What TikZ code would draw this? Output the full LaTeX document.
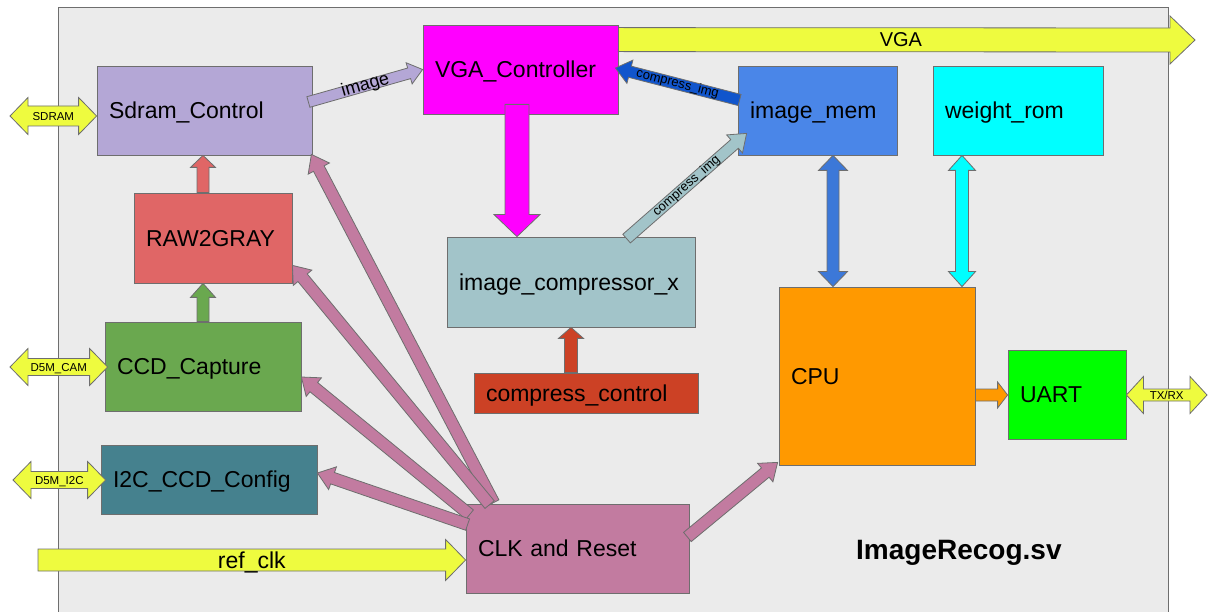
\documentclass[tikz,border=0pt]{standalone}
\usepackage{fontspec}
\setmainfont{Liberation Sans}
\usetikzlibrary{calc}
\definecolor{bord}{HTML}{6E6E6E}
\definecolor{cBg}{HTML}{EBEBEB}
\definecolor{cSdram}{HTML}{B4A7D6}
\definecolor{cVga}{HTML}{FF00FF}
\definecolor{cImem}{HTML}{4A86E8}
\definecolor{cWrom}{HTML}{00FFFF}
\definecolor{cComp}{HTML}{A2C4C9}
\definecolor{cCctrl}{HTML}{CC4125}
\definecolor{cRaw}{HTML}{E06666}
\definecolor{cCcd}{HTML}{6AA84F}
\definecolor{cI2c}{HTML}{45818E}
\definecolor{cClk}{HTML}{C27BA0}
\definecolor{cCpu}{HTML}{FF9900}
\definecolor{cUart}{HTML}{00FF00}
\definecolor{cYel}{HTML}{EEFB3F}
\definecolor{cBlueA}{HTML}{3C78D8}
\definecolor{cBlueB}{HTML}{1155CC}
\tikzset{
  blk/.style={draw=bord, line width=0.8pt, inner xsep=12pt, inner ysep=0pt, align=left,
    font=\fontsize{23}{27}\selectfont, anchor=center, text height=18pt, text depth=1.6pt},
  arr/.style={draw=bord, line width=0.8pt, line join=miter},
  smalltxt/.style={font=\fontsize{11.5}{13}\selectfont, inner sep=0pt, text height=8.2pt, text depth=0pt},
  midtxt/.style={font=\fontsize{13}{15}\selectfont, inner sep=0pt},
}
\newcommand{\blockarrow}[6]{%
  \coordinate (bah) at ($(#3)!#6!(#2)$);
  \draw[arr,#1] ($(#2)!#4!90:(#3)$) -- ($(bah)!#4!-90:(#2)$) -- ($(bah)!#5!-90:(#2)$) -- (#3)
    -- ($(bah)!#5!90:(#2)$) -- ($(bah)!#4!90:(#2)$) -- ($(#2)!#4!-90:(#3)$) -- cycle;}
\newcommand{\dblarrow}[6]{%
  \coordinate (dbha) at ($(#2)!#6!(#3)$);
  \coordinate (dbhb) at ($(#3)!#6!(#2)$);
  \draw[arr,#1] (#2) -- ($(dbha)!#5!90:(#3)$) -- ($(dbha)!#4!90:(#3)$) -- ($(dbhb)!#4!-90:(#2)$)
    -- ($(dbhb)!#5!-90:(#2)$) -- (#3) -- ($(dbhb)!#5!90:(#2)$) -- ($(dbhb)!#4!90:(#2)$)
    -- ($(dbha)!#4!-90:(#3)$) -- ($(dbha)!#5!-90:(#3)$) -- cycle;}
\begin{document}
\begin{tikzpicture}[x=1pt,y=-1pt]
\useasboundingbox (0,0) rectangle (1208,612);
\node[draw=bord, fill=cBg, line width=0.8pt, inner sep=0pt, minimum width=1110pt, minimum height=620pt, anchor=north west] (frame) at (58,7) {};

% blocks
\node[blk, fill=cSdram, minimum width=215pt, text width=191pt, minimum height=89pt] (sdram) at (204.5,110.5) {Sdram\_Control};
\node[blk, fill=cVga, minimum width=195pt, text width=171pt, minimum height=89pt] (vga) at (520.5,69.5) {VGA\_Controller};
\node[blk, fill=cImem, minimum width=159pt, text width=135pt, minimum height=89pt] (imem) at (817.5,110.5) {image\_mem};
\node[blk, fill=cWrom, minimum width=170pt, text width=146pt, minimum height=89pt] (wrom) at (1018,110.5) {weight\_rom};
\node[blk, fill=cComp, minimum width=248pt, text width=224pt, minimum height=90pt] (comp) at (571,282) {image\_compressor\_x};
\node[blk, fill=cCctrl, minimum width=224pt, text width=200pt, minimum height=40pt] (cctrl) at (586,393) {compress\_control};
\node[blk, fill=cRaw, minimum width=158pt, text width=134pt, minimum height=90pt] (raw) at (213,238) {RAW2GRAY};
\node[blk, fill=cCcd, minimum width=196pt, text width=172pt, minimum height=89pt] (ccd) at (203,366.5) {CCD\_Capture};
\node[blk, fill=cI2c, minimum width=216pt, text width=192pt, minimum height=69pt] (i2c) at (209,479.5) {I2C\_CCD\_Config};
\node[blk, fill=cClk, minimum width=223pt, text width=199pt, minimum height=89pt] (clk) at (577.5,548.5) {CLK and Reset};
\node[blk, fill=cCpu, minimum width=196pt, text width=172pt, minimum height=178pt] (cpu) at (877,376) {CPU};
\node[blk, fill=cUart, minimum width=118pt, text width=94pt, minimum height=89pt] (uart) at (1067,394.5) {UART};

\node[font=\bfseries\fontsize{28}{32}\selectfont, anchor=west, inner sep=0pt] (title) at (856,553) {ImageRecog.sv};

% external ports
\coordinate (sdL) at (10,116);
\coordinate (sdR) at ($(sdram.west)+(0,5.5)$);
\dblarrow{fill=cYel}{sdL}{sdR}{10pt}{18.5pt}{18pt}
\path (sdL) -- (sdR) node[midway, smalltxt] {SDRAM};

\coordinate (dcL) at (10,367);
\coordinate (dcR) at ($(ccd.west)+(3,0.5)$);
\dblarrow{fill=cYel}{dcL}{dcR}{8.5pt}{18.5pt}{18pt}
\path (dcL) -- (dcR) node[midway, smalltxt] {D5M\_CAM};

\coordinate (diL) at (13,480);
\coordinate (diR) at ($(i2c.west)+(5,0.5)$);
\dblarrow{fill=cYel}{diL}{diR}{8.5pt}{18.5pt}{18pt}
\path (diL) -- (diR) node[midway, smalltxt] {D5M\_I2C};

\coordinate (txL) at ($(uart.east)+(0,0.5)$);
\coordinate (txR) at (1207,395);
\dblarrow{fill=cYel}{txL}{txR}{6pt}{18.5pt}{17pt}
\path (txL) -- (txR) node[midway, smalltxt] {TX/RX};

\coordinate (rcA) at (38,560);
\coordinate (rcB) at ($(clk.west)+(0,11.5)$);
\blockarrow{fill=cYel}{rcA}{rcB}{11pt}{20.5pt}{20pt}
\path (rcA) -- (rcB) node[midway, font=\fontsize{23}{27}\selectfont, inner sep=0pt, text height=16.5pt, text depth=0pt] {ref\_clk};

\coordinate (vgA) at ($(vga.north east)+(0,15)$);
\coordinate (vgB) at (1195,40);
\blockarrow{fill=cYel}{vgA}{vgB}{12pt}{24pt}{25pt}
\path (vgA) -- (vgB) node[pos=0.49, font=\fontsize{20}{24}\selectfont, inner sep=0pt] {VGA};

% internal connectors
\coordinate (imA) at ($(sdram.east)+(-4,-8.5)$);
\blockarrow{fill=cSdram}{imA}{vga.west}{5.5pt}{11pt}{14pt}
\path (imA) -- (vga.west) node[midway, sloped, font=\fontsize{18}{20}\selectfont, inner sep=0pt] {image};

\coordinate (mgA) at ($(vga.south)+(-3.5,-10)$);
\coordinate (mgB) at (mgA |- comp.north);
\blockarrow{fill=cVga}{mgA}{mgB}{12pt}{23pt}{22pt}

\coordinate (cbA) at ($(imem.west)+(2,-10.5)$);
\coordinate (cbB) at ($(vga.east)+(-3,-1.5)$);
\blockarrow{fill=cBlueB}{cbA}{cbB}{5.75pt}{12pt}{15pt}
\path (cbA) -- (cbB) node[midway, sloped, midtxt] {compress\_img};

\coordinate (clA) at ($(comp.north west)+(180,2)$);
\coordinate (clB) at ($(imem.south west)+(9,-22)$);
\blockarrow{fill=cComp}{clA}{clB}{5.75pt}{12pt}{16pt}
\path (clA) -- (clB) node[midway, sloped, midtxt] {compress\_img};

\coordinate (rsA) at (comp.south |- cctrl.north);
\blockarrow{fill=cCctrl}{rsA}{comp.south}{6.5pt}{12.5pt}{11pt}

\coordinate (rdA) at ($(raw.north)+(-10,0)$);
\coordinate (rdB) at (rdA |- sdram.south);
\blockarrow{fill=cRaw}{rdA}{rdB}{6pt}{12.5pt}{12pt}

\coordinate (gnA) at (rdA |- ccd.north);
\coordinate (gnB) at (rdA |- raw.south);
\blockarrow{fill=cCcd}{gnA}{gnB}{6pt}{12.5pt}{14pt}

\coordinate (orA) at (cpu.east |- txL);
\coordinate (orB) at (uart.west |- txL);
\blockarrow{fill=cCpu}{orA}{orB}{6pt}{13pt}{10pt}

\coordinate (bmA) at ($(imem.south)+(15.5,0)$);
\coordinate (bmB) at (bmA |- cpu.north);
\dblarrow{fill=cBlueA}{bmA}{bmB}{6pt}{14.5pt}{15pt}

\coordinate (cyA) at ($(wrom.south)+(-56,0)$);
\coordinate (cyB) at (cyA |- cpu.north);
\dblarrow{fill=cWrom}{cyA}{cyB}{6.5pt}{13.5pt}{15pt}

% clock fan-out
\coordinate (pkA) at ($(clk.north west)+(28,-1)$);
\coordinate (pkAt) at ($(sdram.south east)+(-1,-1)$);
\blockarrow{fill=cClk}{pkA}{pkAt}{6pt}{12pt}{16pt}
\coordinate (pkB) at ($(clk.north west)+(24,1)$);
\coordinate (pkBt) at ($(raw.south east)+(0,-18)$);
\blockarrow{fill=cClk}{pkB}{pkBt}{6pt}{12pt}{16pt}
\coordinate (pkC) at ($(clk.north west)+(4,11)$);
\coordinate (pkCt) at ($(ccd.east)+(0,10.5)$);
\blockarrow{fill=cClk}{pkC}{pkCt}{6pt}{12pt}{16pt}
\coordinate (pkD) at ($(clk.north west)+(2,21)$);
\coordinate (pkDt) at ($(i2c.east)+(0,-6.5)$);
\blockarrow{fill=cClk}{pkD}{pkDt}{6pt}{12pt}{16pt}
\coordinate (pkE) at ($(clk.east)+(-2,-11.5)$);
\coordinate (pkEt) at ($(cpu.south west)+(-1,-3)$);
\blockarrow{fill=cClk}{pkE}{pkEt}{6pt}{12pt}{16pt}
\end{tikzpicture}
\end{document}
